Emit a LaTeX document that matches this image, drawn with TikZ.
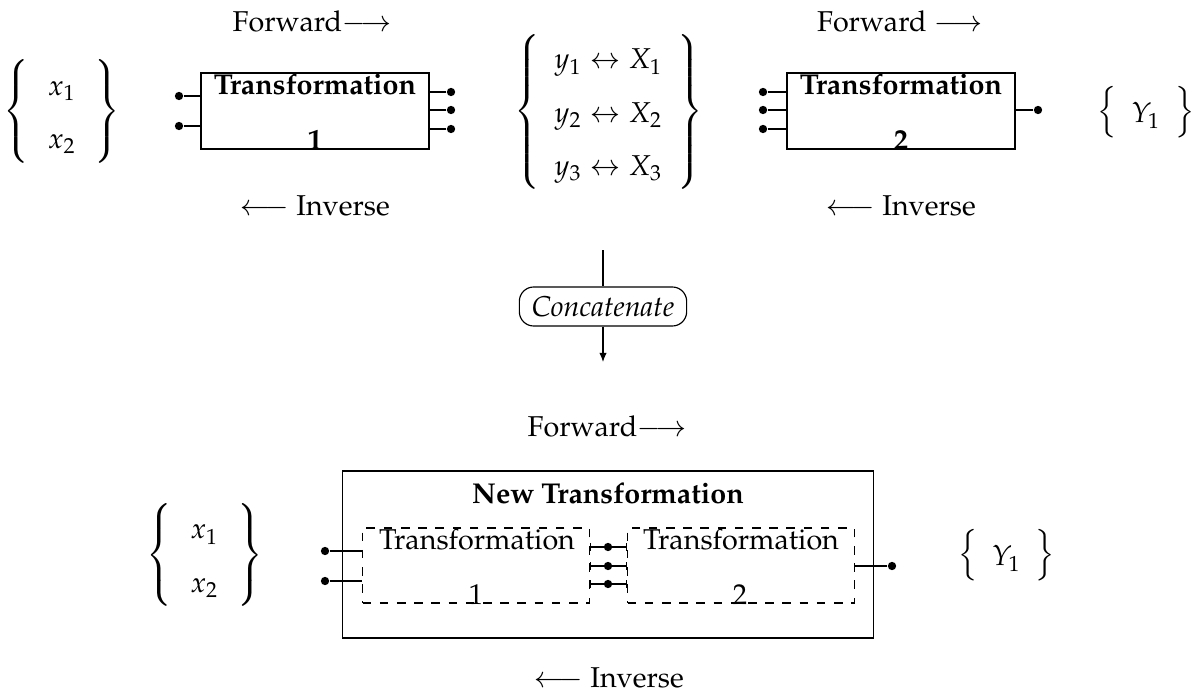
\documentclass[tikz,border=0pt]{standalone}
\usepackage[T1]{fontenc}
\usepackage{mathpazo}
\usetikzlibrary{arrows.meta}
\renewcommand\arraystretch{1.55}
\begin{document}
\begin{tikzpicture}[x=0.01226cm, y=-0.01226cm, line width=0.4pt,
  block/.style={draw, inner sep=0pt, minimum width=2.795cm, minimum height=0.932cm},
  dblock/.style={draw, dashed, inner sep=0pt, minimum width=2.78cm, minimum height=0.92cm},
  pin/.style={circle, fill, inner sep=0pt, minimum size=2.9pt},
  txt/.style={anchor=base, inner sep=0pt},
  grp/.style={inner sep=0pt},
  barbar/.style={{Bar[width=2.6pt]}-{Bar[width=2.6pt]}},
]
\useasboundingbox (0,0) rectangle (1199,700);

% ---------- first transformation ----------
\node[grp] (xin) at (62,111.5)
  {$\left\{\begin{array}{@{\hspace{6.5pt}}c@{\hspace{6.5pt}}} x_1\\ x_2\end{array}\right\}$};
\node[block] (t1) at (315,111) {};
\node[txt] (t1a) at (315,95) {\textbf{Transformation}};
\node[txt] (t1b) at (315,149) {\textbf{1}};
\node[txt] (f1) at (312,32) {Forward$\longrightarrow$};
\node[txt] (i1) at (315,215) {$\longleftarrow$ Inverse};
\node[pin] (p11) at (179,96) {};
\node[pin] (p12) at (179,126) {};
\node[pin] (q11) at (451,92) {};
\node[pin] (q12) at (451,110) {};
\node[pin] (q13) at (451,129) {};
\foreach \p in {p11,p12} \draw (\p) -- (\p -| t1.west);
\foreach \q in {q11,q12,q13} \draw (\q) -- (\q -| t1.east);

% ---------- intermediate variables ----------
\node[grp] (mid) at (608.5,111.5)
  {$\left\{\begin{array}{c} y_1\leftrightarrow X_1\\ y_2\leftrightarrow X_2\\ y_3\leftrightarrow X_3\end{array}\right\}$};

% ---------- second transformation ----------
\node[block] (t2) at (901,111) {};
\node[txt] (t2a) at (901,95) {\textbf{Transformation}};
\node[txt] (t2b) at (901,149) {\textbf{2}};
\node[txt] (f2) at (900,32) {Forward $\longrightarrow$};
\node[txt] (i2) at (901,215) {$\longleftarrow$ Inverse};
\node[pin] (p21) at (763,92) {};
\node[pin] (p22) at (763,110) {};
\node[pin] (p23) at (763,129) {};
\node[pin] (q21) at (1038,110) {};
\foreach \p in {p21,p22,p23} \draw (\p) -- (\p -| t2.west);
\draw (q21) -- (q21 -| t2.east);
\node[grp] (yout) at (1146,112) {$\left\{\begin{array}{c} Y_1\end{array}\right\}$};

% ---------- concatenation step ----------
\node[draw, rounded corners=5pt, minimum width=2.05cm, minimum height=0.478cm,
  inner sep=0pt, font=\itshape] (cc) at (603,306.5) {Concatenate};
\coordinate (ctop) at (603,250);
\coordinate (cbot) at (603,362);
\draw (ctop) -- (cc.north);
\draw[-{Latex[length=3.2pt,width=2.6pt]}] (cc.south) -- (cbot);

% ---------- combined transformation ----------
\node[txt] (f3) at (607,436) {Forward$\longrightarrow$};
\node[txt] (i3) at (609,687) {$\longleftarrow$ Inverse};
\node[draw, inner sep=0pt, minimum width=6.498cm, minimum height=2.047cm] (nt) at (608,554.5) {};
\node[txt] (nta) at (608,503) {\textbf{New Transformation}};
\node[dblock] (d1) at (476,565.5) {};
\node[dblock] (d2) at (741,565.5) {};
\node[txt] (d1a) at (477,549) {Transformation};
\node[txt] (d1b) at (476,604) {1};
\node[txt] (d2a) at (741,549) {Transformation};
\node[txt] (d2b) at (740,604) {2};

\node[grp] (xin2) at (204.5,555)
  {$\left\{\begin{array}{@{\hspace{6.5pt}}c@{\hspace{6.5pt}}} x_1\\ x_2\end{array}\right\}$};
\node[grp] (yout2) at (1006.5,555) {$\left\{\begin{array}{c} Y_1\end{array}\right\}$};

\node[pin] (r1) at (325,551) {};
\node[pin] (r2) at (325,581) {};
\foreach \p in {r1,r2} \draw (\p) -- (\p -| d1.west);
\node[pin] (m1) at (608,547) {};
\node[pin] (m2) at (608,566) {};
\node[pin] (m3) at (608,584) {};
\foreach \m in {m1,m2,m3} \draw[barbar] (\m -| d1.east) -- (\m -| d2.west);
\node[pin] (s1) at (892,566) {};
\draw (s1) -- (s1 -| d2.east);
\end{tikzpicture}
\end{document}
